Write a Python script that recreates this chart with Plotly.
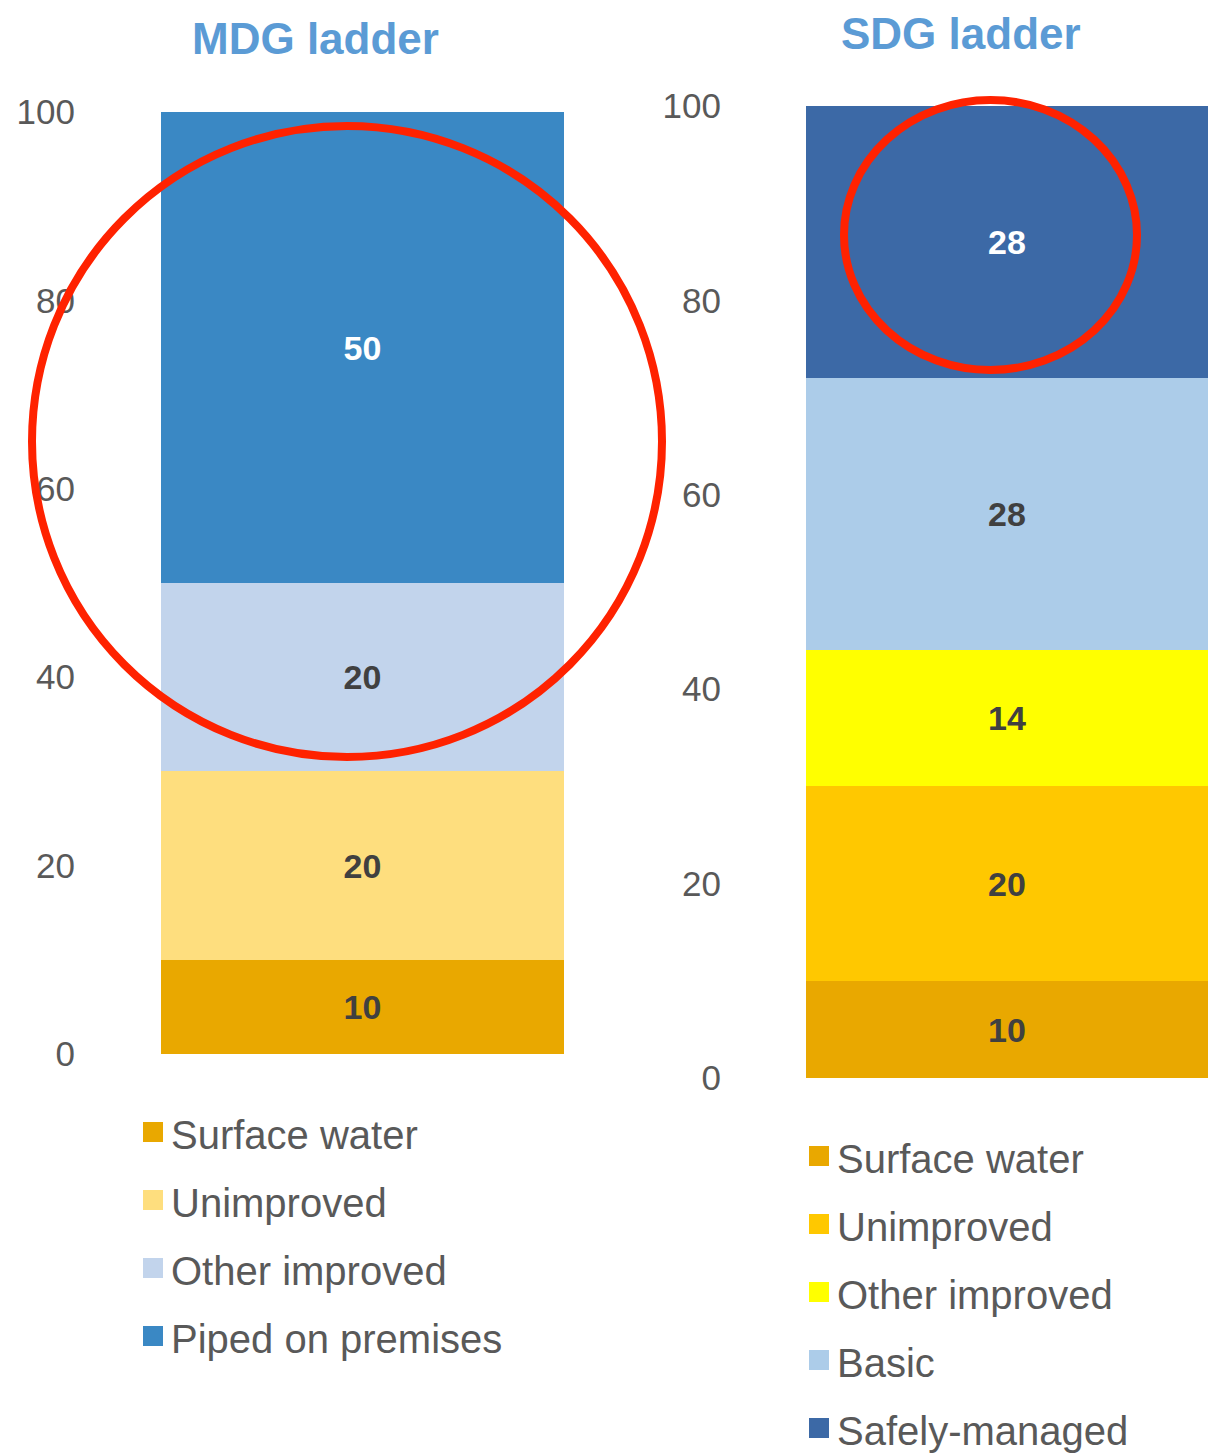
import plotly.graph_objects as go

W, H = 1208, 1454

# MDG drinking-water ladder (percent of population)
mdg_categories = ["Surface water", "Unimproved", "Other improved", "Piped on premises"]
mdg_values = [10, 20, 20, 50]
mdg_colors = ["#E9A800", "#FEDE7E", "#C2D4EC", "#3A88C4"]
mdg_label_colors = ["#404040", "#404040", "#404040", "#FFFFFF"]

# SDG drinking-water ladder (percent of population)
sdg_categories = ["Surface water", "Unimproved", "Other improved", "Basic", "Safely-managed"]
sdg_values = [10, 20, 14, 28, 28]
sdg_colors = ["#E9A800", "#FFC800", "#FFFF00", "#ACCCE9", "#3C69A6"]
sdg_label_colors = ["#404040", "#404040", "#404040", "#404040", "#FFFFFF"]

y_ticks = [0, 20, 40, 60, 80, 100]

FONT = "Liberation Sans, Arial, sans-serif"
TEXT_GREY = "#595959"
TITLE_BLUE = "#5B9BD5"
RING_RED = "#FF2200"


def px_x(x):
    return x / W


def px_y(y):
    return 1 - y / H


fig = go.Figure()

for name, val, col, lc in zip(mdg_categories, mdg_values, mdg_colors, mdg_label_colors):
    fig.add_trace(go.Bar(
        x=["MDG ladder"], y=[val], name=name, marker=dict(color=col, line=dict(width=0)),
        text=[val], texttemplate="<b>%{y}</b>", textposition="inside",
        insidetextanchor="middle", textangle=0,
        textfont=dict(family=FONT, size=34, color=lc),
        xaxis="x", yaxis="y", showlegend=False,
    ))

for name, val, col, lc in zip(sdg_categories, sdg_values, sdg_colors, sdg_label_colors):
    fig.add_trace(go.Bar(
        x=["SDG ladder"], y=[val], name=name, marker=dict(color=col, line=dict(width=0)),
        text=[val], texttemplate="<b>%{y}</b>", textposition="inside",
        insidetextanchor="middle", textangle=0,
        textfont=dict(family=FONT, size=34, color=lc),
        xaxis="x2", yaxis="y2", showlegend=False,
    ))

axis_common = dict(showgrid=False, zeroline=False, showline=False)

annotations = []
shapes = []

# Panel titles
for title, cx, cy in [("MDG ladder", 315, 38), ("SDG ladder", 961, 33)]:
    annotations.append(dict(
        text=f"<b>{title}</b>", x=px_x(cx), y=px_y(cy), xref="paper", yref="paper",
        xanchor="center", yanchor="middle", showarrow=False,
        font=dict(family=FONT, size=44, color=TITLE_BLUE),
    ))

# Legends drawn as swatch + label rows under each bar
def add_legend(names, colors, sw_x, text_x, first_y, step):
    for i, (n, c) in enumerate(zip(names, colors)):
        cy = first_y + i * step
        shapes.append(dict(
            type="rect", xref="paper", yref="paper",
            x0=px_x(sw_x), x1=px_x(sw_x + 20), y0=px_y(cy + 10), y1=px_y(cy - 10),
            fillcolor=c, line=dict(width=0),
        ))
        annotations.append(dict(
            text=n, x=px_x(text_x), y=px_y(cy + 3), xref="paper", yref="paper",
            xanchor="left", yanchor="middle", showarrow=False,
            font=dict(family=FONT, size=40, color=TEXT_GREY),
        ))


add_legend(mdg_categories, mdg_colors, 143, 169, 1132, 68)
add_legend(sdg_categories, sdg_colors, 809, 835, 1156, 68)

# Highlight rings
shapes.append(dict(
    type="circle", xref="paper", yref="paper",
    x0=px_x(32), x1=px_x(662), y0=px_y(757), y1=px_y(126),
    line=dict(color=RING_RED, width=8), layer="above",
))
shapes.append(dict(
    type="circle", xref="paper", yref="paper",
    x0=px_x(844), x1=px_x(1137), y0=px_y(370), y1=px_y(100),
    line=dict(color=RING_RED, width=8), layer="above",
))

fig.update_layout(
    width=W, height=H,
    margin=dict(l=0, r=0, t=0, b=0, pad=0, autoexpand=False),
    paper_bgcolor="white", plot_bgcolor="white",
    barmode="stack", bargap=0,
    showlegend=False,
    xaxis=dict(domain=[px_x(161), px_x(564)], range=[-0.5, 0.5], anchor="y",
               visible=False, **axis_common),
    yaxis=dict(domain=[px_y(1054), px_y(112)], range=[0, 100], anchor="free",
               position=px_x(75), tickvals=y_ticks, ticks="",
               tickfont=dict(family=FONT, size=35, color=TEXT_GREY), **axis_common),
    xaxis2=dict(domain=[px_x(806), 1], range=[-0.5, 0.5], anchor="y2",
                visible=False, **axis_common),
    yaxis2=dict(domain=[px_y(1078), px_y(106)], range=[0, 100], anchor="free",
                position=px_x(721), tickvals=y_ticks, ticks="",
                tickfont=dict(family=FONT, size=35, color=TEXT_GREY), **axis_common),
    annotations=annotations,
    shapes=shapes,
)

fig.write_html("out.html")
